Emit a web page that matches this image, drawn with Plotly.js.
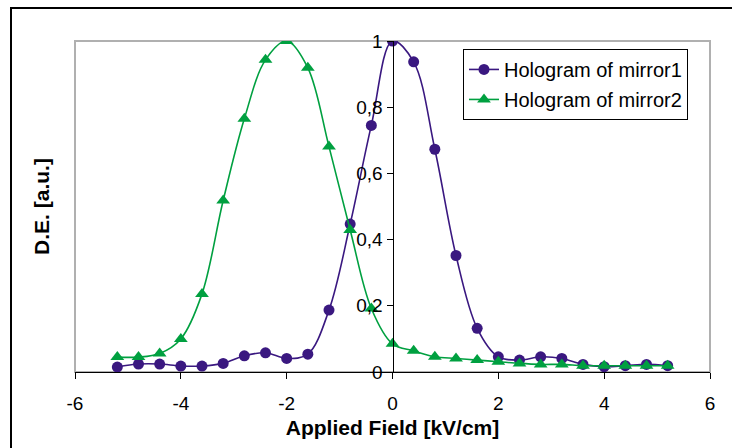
<!DOCTYPE html>
<html>
<head>
<meta charset="utf-8">
<script src="https://cdn.plot.ly/plotly-3.0.1.min.js"></script>
<style>
  html, body { margin: 0; padding: 0; background: #fff; }
  #wrap { position: relative; width: 732px; height: 448px; overflow: hidden; }
  #chart { position: absolute; left: 0; top: 0; width: 732px; height: 448px; }
  #frame { position: absolute; left: 10px; top: 7px; width: 760px; height: 480px;
           border-left: 2px solid #000; border-top: 2px solid #000; pointer-events: none; }
</style>
</head>
<body>
<div id="wrap">
  <div id="chart"></div>
  <div id="frame"></div>
</div>
<script>
// Applied field (kV/cm)
const field = [-5.2, -4.8, -4.4, -4.0, -3.6, -3.2, -2.8, -2.4, -2.0, -1.6, -1.2, -0.8, -0.4,
               0, 0.4, 0.8, 1.2, 1.6, 2.0, 2.4, 2.8, 3.2, 3.6, 4.0, 4.4, 4.8, 5.2];
// Diffraction efficiency, hologram of mirror1
const mirror1 = [0.015, 0.024, 0.024, 0.018, 0.018, 0.026, 0.049, 0.058, 0.041, 0.054, 0.187, 0.447, 0.745,
                 1.0, 0.937, 0.673, 0.352, 0.132, 0.046, 0.036, 0.046, 0.041, 0.023, 0.016, 0.019, 0.023, 0.019];
// Diffraction efficiency, hologram of mirror2
const mirror2 = [0.045, 0.045, 0.056, 0.100, 0.236, 0.518, 0.765, 0.943, 1.0, 0.919, 0.681, 0.429, 0.192,
                 0.085, 0.064, 0.046, 0.041, 0.036, 0.031, 0.026, 0.023, 0.023, 0.019, 0.019, 0.019, 0.019, 0.019];
const names = ["Hologram of mirror1", "Hologram of mirror2"];
const xTicks = [-6, -4, -2, 0, 2, 4, 6];
const xTickText = ["-6", "-4", "-2", "0", "2", "4", "6"];
const yTicks = [0, 0.2, 0.4, 0.6, 0.8, 1];
const yTickText = ["0", "0,2", "0,4", "0,6", "0,8", "1"];

const purple = "#3a1880";
const green = "#00a040";
const font = "Arial, 'Liberation Sans', sans-serif";

const traces = [
  {
    x: field, y: mirror1, name: names[0], type: "scatter", mode: "lines+markers",
    legendgroup: "a", xaxis: "x", yaxis: "y",
    line: { color: purple, width: 1.6, shape: "spline", smoothing: 1 },
    marker: { symbol: "circle", size: 11, color: purple }
  },
  {
    x: field, y: mirror2, name: names[1], type: "scatter", mode: "lines+markers",
    legendgroup: "b", xaxis: "x", yaxis: "y2",
    line: { color: green, width: 1.6, shape: "spline", smoothing: 1 },
    marker: { symbol: "triangle-up", size: 12, color: green }
  }
];

const layout = {
  width: 732, height: 448,
  margin: { l: 75, r: 22, t: 41, b: 76, pad: 0 },
  paper_bgcolor: "#fff", plot_bgcolor: "#fff",
  separators: ", ",
  font: { family: font, color: "#000", size: 19 },
  showlegend: true,
  legend: {
    x: 0.611, y: 0.976, xanchor: "left", yanchor: "top",
    bgcolor: "#fff", bordercolor: "#000", borderwidth: 1,
    font: { family: font, size: 20, color: "#000" },
    tracegroupgap: 1
  },
  xaxis: {
    range: [-6, 6], tickmode: "array", tickvals: xTicks, ticktext: xTickText,
    showgrid: false, zeroline: false,
    showline: true, linecolor: "#000", linewidth: 1,
    ticks: "outside", ticklen: 6, tickcolor: "#000", tickwidth: 1,
    ticklabelstandoff: 8,
    tickfont: { family: font, size: 19, color: "#000" },
    title: { text: "Applied Field [kV/cm]", font: { family: font, size: 21, color: "#000", weight: "bold" }, standoff: 7 }
  },
  yaxis: {
    range: [0, 1], showgrid: false, zeroline: false, showline: false,
    showticklabels: false, ticks: "",
    title: { text: "D.E. [a.u.]", font: { family: font, size: 21, color: "#000", weight: "bold" }, standoff: 18 }
  },
  yaxis2: {
    range: [0, 1], overlaying: "y", anchor: "free", position: 0.5, side: "left",
    tickmode: "array", tickvals: yTicks, ticktext: yTickText,
    showgrid: false, zeroline: false,
    showline: true, linecolor: "#000", linewidth: 1,
    ticks: "outside", ticklen: 6, tickcolor: "#000", tickwidth: 1,
    tickfont: { family: font, size: 19, color: "#000" }
  },
  shapes: [
    { type: "rect", xref: "paper", yref: "paper", x0: 0, x1: 1, y0: 0, y1: 1,
      line: { color: "#b0b0b0", width: 2 }, layer: "below" }
  ]
};

Plotly.newPlot("chart", traces, layout, { staticPlot: true, displayModeBar: false });
</script>
</body>
</html>
